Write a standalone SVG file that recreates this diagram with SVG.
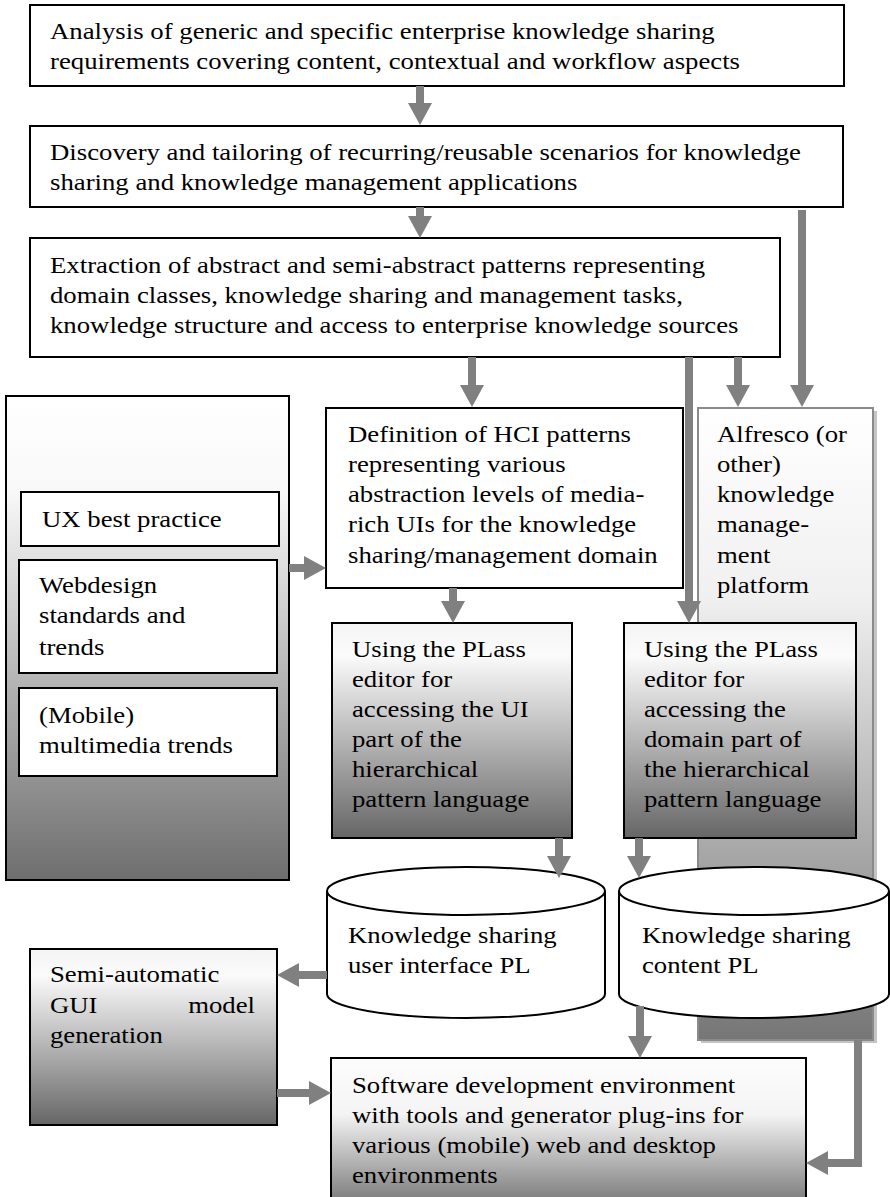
<svg xmlns="http://www.w3.org/2000/svg" width="890" height="1197" viewBox="0 0 890 1197">
<style>
.t{font-family:"Liberation Serif","Times New Roman",serif;font-size:24px;fill:#000}
.box{stroke:#000;stroke-width:2}
.wbox{fill:#fff;stroke:#000;stroke-width:2}
.conn{fill:none;stroke:#808080;stroke-width:8}
</style>
<defs>
<linearGradient id="gLeft" x1="0" y1="0" x2="0" y2="1">
<stop offset="0" stop-color="#ffffff"/><stop offset="0.2" stop-color="#f8f8f8"/><stop offset="1" stop-color="#6e6e6e"/>
</linearGradient>
<linearGradient id="gBox" x1="0" y1="0" x2="0" y2="1">
<stop offset="0" stop-color="#f4f4f4"/><stop offset="0.15" stop-color="#fbfbfb"/><stop offset="1" stop-color="#666666"/>
</linearGradient>
<linearGradient id="gSoft" x1="0" y1="0" x2="0" y2="1">
<stop offset="0" stop-color="#fdfdfd"/><stop offset="0.35" stop-color="#f4f4f4"/><stop offset="1" stop-color="#666666"/>
</linearGradient>
<linearGradient id="gAlf" x1="0" y1="0" x2="0" y2="1">
<stop offset="0" stop-color="#ffffff"/><stop offset="0.3" stop-color="#f0f0f0"/><stop offset="0.7" stop-color="#a8a8a8"/><stop offset="1" stop-color="#767676"/>
</linearGradient>
<marker id="ah" viewBox="0 0 22 24" refX="0" refY="12" markerWidth="22" markerHeight="24" markerUnits="userSpaceOnUse" orient="auto">
<path d="M0,0 L22,12 L0,24 Z" fill="#808080"/>
</marker>
</defs>

<g id="n1">
<rect class="wbox" x="30" y="5" width="814" height="81"/>
<g transform="matrix(1.115 0 0 1 -5.75 0)">
<text class="t" x="50" y="39">Analysis of generic and specific enterprise knowledge sharing</text>
<text class="t" x="50" y="69">requirements covering content, contextual and workflow aspects</text>
</g>
</g>
<g id="n2">
<rect class="wbox" x="30" y="126" width="813" height="81"/>
<g transform="matrix(1.115 0 0 1 -5.75 0)">
<text class="t" x="50" y="160">Discovery and tailoring of recurring/reusable scenarios for knowledge</text>
<text class="t" x="50" y="190">sharing and knowledge management applications</text>
</g>
</g>
<g id="n3">
<rect class="wbox" x="30" y="238" width="750" height="119"/>
<g transform="matrix(1.115 0 0 1 -5.75 0)">
<text class="t" x="50" y="273">Extraction of abstract and semi-abstract patterns representing</text>
<text class="t" x="50" y="303">domain classes, knowledge sharing and management tasks,</text>
<text class="t" x="50" y="333">knowledge structure and access to enterprise knowledge sources</text>
</g>
</g>

<g id="left">
<rect class="box" x="6" y="396" width="283" height="484" fill="url(#gLeft)"/>
</g>
<g id="ux">
<rect class="wbox" x="21" y="492" width="258" height="54"/>
<g transform="matrix(1.115 0 0 1 -4.83 0)">
<text class="t" x="42" y="527">UX best practice</text>
</g>
</g>
<g id="web">
<rect class="wbox" x="19" y="560" width="258" height="113"/>
<g transform="matrix(1.115 0 0 1 -4.485 0)">
<text class="t" x="39" y="593">Webdesign</text>
<text class="t" x="39" y="623">standards and</text>
<text class="t" x="39" y="655">trends</text>
</g>
</g>
<g id="mobile">
<rect class="wbox" x="19" y="688" width="258" height="88"/>
<g transform="matrix(1.115 0 0 1 -4.485 0)">
<text class="t" x="39" y="723">(Mobile)</text>
<text class="t" x="39" y="753">multimedia trends</text>
</g>
</g>

<g id="hci">
<rect class="wbox" x="326" y="408" width="357" height="180"/>
<g transform="matrix(1.115 0 0 1 -40.02 0)">
<text class="t" x="348" y="442">Definition of HCI patterns</text>
<text class="t" x="348" y="472">representing various</text>
<text class="t" x="348" y="502">abstraction levels of media-</text>
<text class="t" x="348" y="532">rich UIs for the knowledge</text>
<text class="t" x="348" y="563">sharing/management domain</text>
</g>
</g>

<g id="alfresco">
<rect x="701" y="411" width="176" height="632" fill="#c4c4c4"/>
<rect x="698" y="408" width="175" height="632" fill="url(#gAlf)" stroke="#8a8a8a" stroke-width="2"/>
<g transform="matrix(1.115 0 0 1 -82.455 0)">
<text class="t" x="717" y="442">Alfresco (or</text>
<text class="t" x="717" y="472">other)</text>
<text class="t" x="717" y="502">knowledge</text>
<text class="t" x="717" y="532">manage-</text>
<text class="t" x="717" y="563">ment</text>
<text class="t" x="717" y="593">platform</text>
</g>
</g>

<g id="plassUI">
<rect class="box" x="332" y="623" width="240" height="215" fill="url(#gBox)"/>
<g transform="matrix(1.115 0 0 1 -40.48 0)">
<text class="t" x="352" y="657">Using the PLass</text>
<text class="t" x="352" y="687">editor for</text>
<text class="t" x="352" y="717">accessing the UI</text>
<text class="t" x="352" y="747">part of the</text>
<text class="t" x="352" y="777">hierarchical</text>
<text class="t" x="352" y="807">pattern language</text>
</g>
</g>
<g id="plassDomain">
<rect class="box" x="624" y="623" width="232" height="215" fill="url(#gBox)"/>
<g transform="matrix(1.115 0 0 1 -74.06 0)">
<text class="t" x="644" y="657">Using the PLass</text>
<text class="t" x="644" y="687">editor for</text>
<text class="t" x="644" y="717">accessing the</text>
<text class="t" x="644" y="747">domain part of</text>
<text class="t" x="644" y="777">the hierarchical</text>
<text class="t" x="644" y="807">pattern language</text>
</g>
</g>

<g id="cylUI">
<path d="M327,891 A139,24 0 0,1 605,891 V994 A139,24 0 0,1 327,994 Z" fill="#fff" stroke="#000" stroke-width="2"/>
<path d="M327,891 A139,24 0 0,0 605,891" fill="none" stroke="#000" stroke-width="2"/>
<g transform="matrix(1.115 0 0 1 -40.02 0)">
<text class="t" x="348" y="943">Knowledge sharing</text>
<text class="t" x="348" y="973">user interface PL</text>
</g>
</g>
<g id="cylContent">
<path d="M619,891 A135,24 0 0,1 889,891 V994 A135,24 0 0,1 619,994 Z" fill="#fff" stroke="#000" stroke-width="2"/>
<path d="M619,891 A135,24 0 0,0 889,891" fill="none" stroke="#000" stroke-width="2"/>
<g transform="matrix(1.115 0 0 1 -73.83 0)">
<text class="t" x="642" y="943">Knowledge sharing</text>
<text class="t" x="642" y="973">content PL</text>
</g>
</g>

<g id="semi">
<rect class="box" x="30" y="949" width="247" height="176" fill="url(#gBox)"/>
<g transform="matrix(1.115 0 0 1 -5.75 0)">
<text class="t" x="50" y="982">Semi-automatic</text>
<text class="t" x="50" y="1013">GUI</text>
<text class="t" x="233.9" y="1013" text-anchor="end">model</text>
<text class="t" x="50" y="1043">generation</text>
</g>
</g>

<g id="software">
<rect class="box" x="331" y="1058" width="475" height="160" fill="url(#gSoft)"/>
<g transform="matrix(1.115 0 0 1 -40.48 0)">
<text class="t" x="352" y="1093">Software development environment</text>
<text class="t" x="352" y="1123">with tools and generator plug-ins for</text>
<text class="t" x="352" y="1153">various (mobile) web and desktop</text>
<text class="t" x="352" y="1183">environments</text>
</g>
</g>

<g id="connectors">
<path class="conn" d="M420,86 V103" marker-end="url(#ah)"/>
<path class="conn" d="M420,207 V216" marker-end="url(#ah)"/>
<path class="conn" d="M802,210 V385" marker-end="url(#ah)"/>
<path class="conn" d="M472,357 V385" marker-end="url(#ah)"/>
<path class="conn" d="M738,357 V385" marker-end="url(#ah)"/>
<path class="conn" d="M689,357 V601" marker-end="url(#ah)"/>
<path class="conn" d="M289,568 H304" marker-end="url(#ah)"/>
<path class="conn" d="M453,588 V601" marker-end="url(#ah)"/>
<path class="conn" d="M559,838 V856" marker-end="url(#ah)"/>
<path class="conn" d="M639,838 V856" marker-end="url(#ah)"/>
<path class="conn" d="M327,975 H299" marker-end="url(#ah)"/>
<path class="conn" d="M277,1093 H309" marker-end="url(#ah)"/>
<path class="conn" d="M640,1006 V1036" marker-end="url(#ah)"/>
<path class="conn" d="M858,1040 V1163 H828" marker-end="url(#ah)"/>
</g>
</svg>
